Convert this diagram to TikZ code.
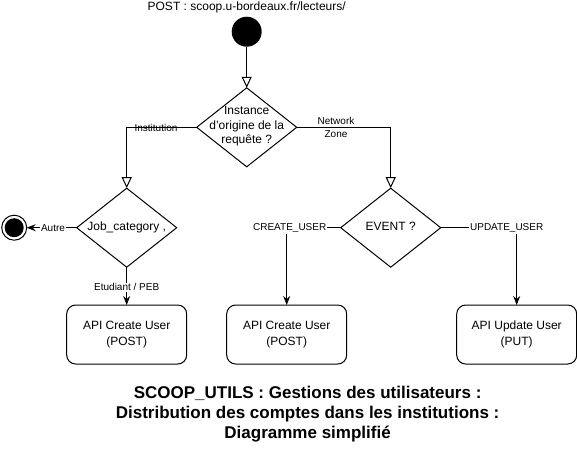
\documentclass[tikz,border=0pt]{standalone}
\usepackage{fontspec}
\setmainfont{Liberation Sans}
\usetikzlibrary{shapes.geometric,arrows.meta}
\begin{document}
\begin{tikzpicture}[x=1pt,y=-1pt,
  line/.style={line width=1pt, draw=black},
  openarr/.style={-{Triangle[open,width=10pt,length=11pt]}},
  fillarr/.style={-{Stealth[width=7pt,length=9pt,inset=3pt]}},
  decision/.style={diamond, draw, line width=1pt, minimum width=100pt, minimum height=79pt, inner sep=0pt, outer sep=0pt},
  apibox/.style={rectangle, rounded corners=9pt, draw, line width=1pt, minimum width=120pt, minimum height=59pt, inner sep=0pt, outer sep=0pt, align=center, font=\fontsize{12}{16.5}\selectfont},
  nodetext/.style={align=center, inner sep=0pt, font=\fontsize{12}{14.4}\selectfont},
  edgelabel/.style={align=center, inner sep=1pt, font=\fontsize{10}{13}\selectfont},
  edgelabelbg/.style={edgelabel, fill=white},
  titletext/.style={anchor=base, inner sep=0pt, font=\fontsize{17}{20}\selectfont\bfseries}
]
\useasboundingbox (0,0) rectangle (577,448);

% start
\node[nodetext] (posttxt) at (246.7,7) {POST : scoop.u-bordeaux.fr/lecteurs/};
\node[circle, fill=black, minimum size=30pt, inner sep=0pt, outer sep=0pt] (start) at (246.7,31.7) {};

% decisions
\node[decision] (d1) at (246.7,127.3) {};
\node[nodetext] (d1t) at (246.7,126.5) {Instance\\d'origine de la\\requête ?};
\node[decision] (d2) at (126.7,227.7) {};
\node[nodetext] (d2t) at (126.7,227) {Job\_category ,};
\node[decision] (d3) at (390.7,227.7) {};
\node[nodetext] (d3t) at (390.7,226.5) {EVENT ?};

% end
\node[circle, draw, line width=1pt, minimum size=25pt, inner sep=0pt, outer sep=0pt] (endc) at (14.2,227.7) {};
\node[circle, fill=black, minimum size=19pt, inner sep=0pt] (endi) at (endc) {};

% boxes
\node[apibox] (b1) at (126.7,334.5) {API Create User\\(POST)};
\node[apibox] (b2) at (286.7,334.5) {API Create User\\(POST)};
\node[apibox] (b3) at (516.7,334.5) {API Update User\\(PUT)};

% connectors
\draw[line, openarr] (start) -- (d1.north);
\draw[line, openarr] (d1.west) -| (d2.north);
\draw[line, openarr] (d1.east) -| (d3.north);
\draw[line, fillarr] (d2.west) -- (endc.east);
\draw[line, fillarr] (d2.south) -- (b1.north);
\draw[line, fillarr] (d3.west) -| (b2.north);
\draw[line, fillarr] (d3.east) -| (b3.north);

% edge labels
\node[edgelabel] (linst) at (156,128) {Institution};
\node[edgelabel] (lnet) at (336,127.5) {Network\\Zone};
\node[edgelabelbg] (lautre) at (53,228.5) {Autre};
\node[edgelabelbg] (letud) at (126.7,287.3) {Etudiant / PEB};
\node[edgelabelbg] (lcreate) at (289.7,228.3) {CREATE\_USER};
\node[edgelabelbg] (lupdate) at (506.7,228.3) {UPDATE\_USER};

% title
\node[titletext] (t1) at (307.6,398) {SCOOP\_UTILS : Gestions des utilisateurs :};
\node[titletext] (t2) at (307.6,418) {Distribution des comptes dans les institutions :};
\node[titletext] (t3) at (307.6,438) {Diagramme simplifié};
\end{tikzpicture}
\end{document}
